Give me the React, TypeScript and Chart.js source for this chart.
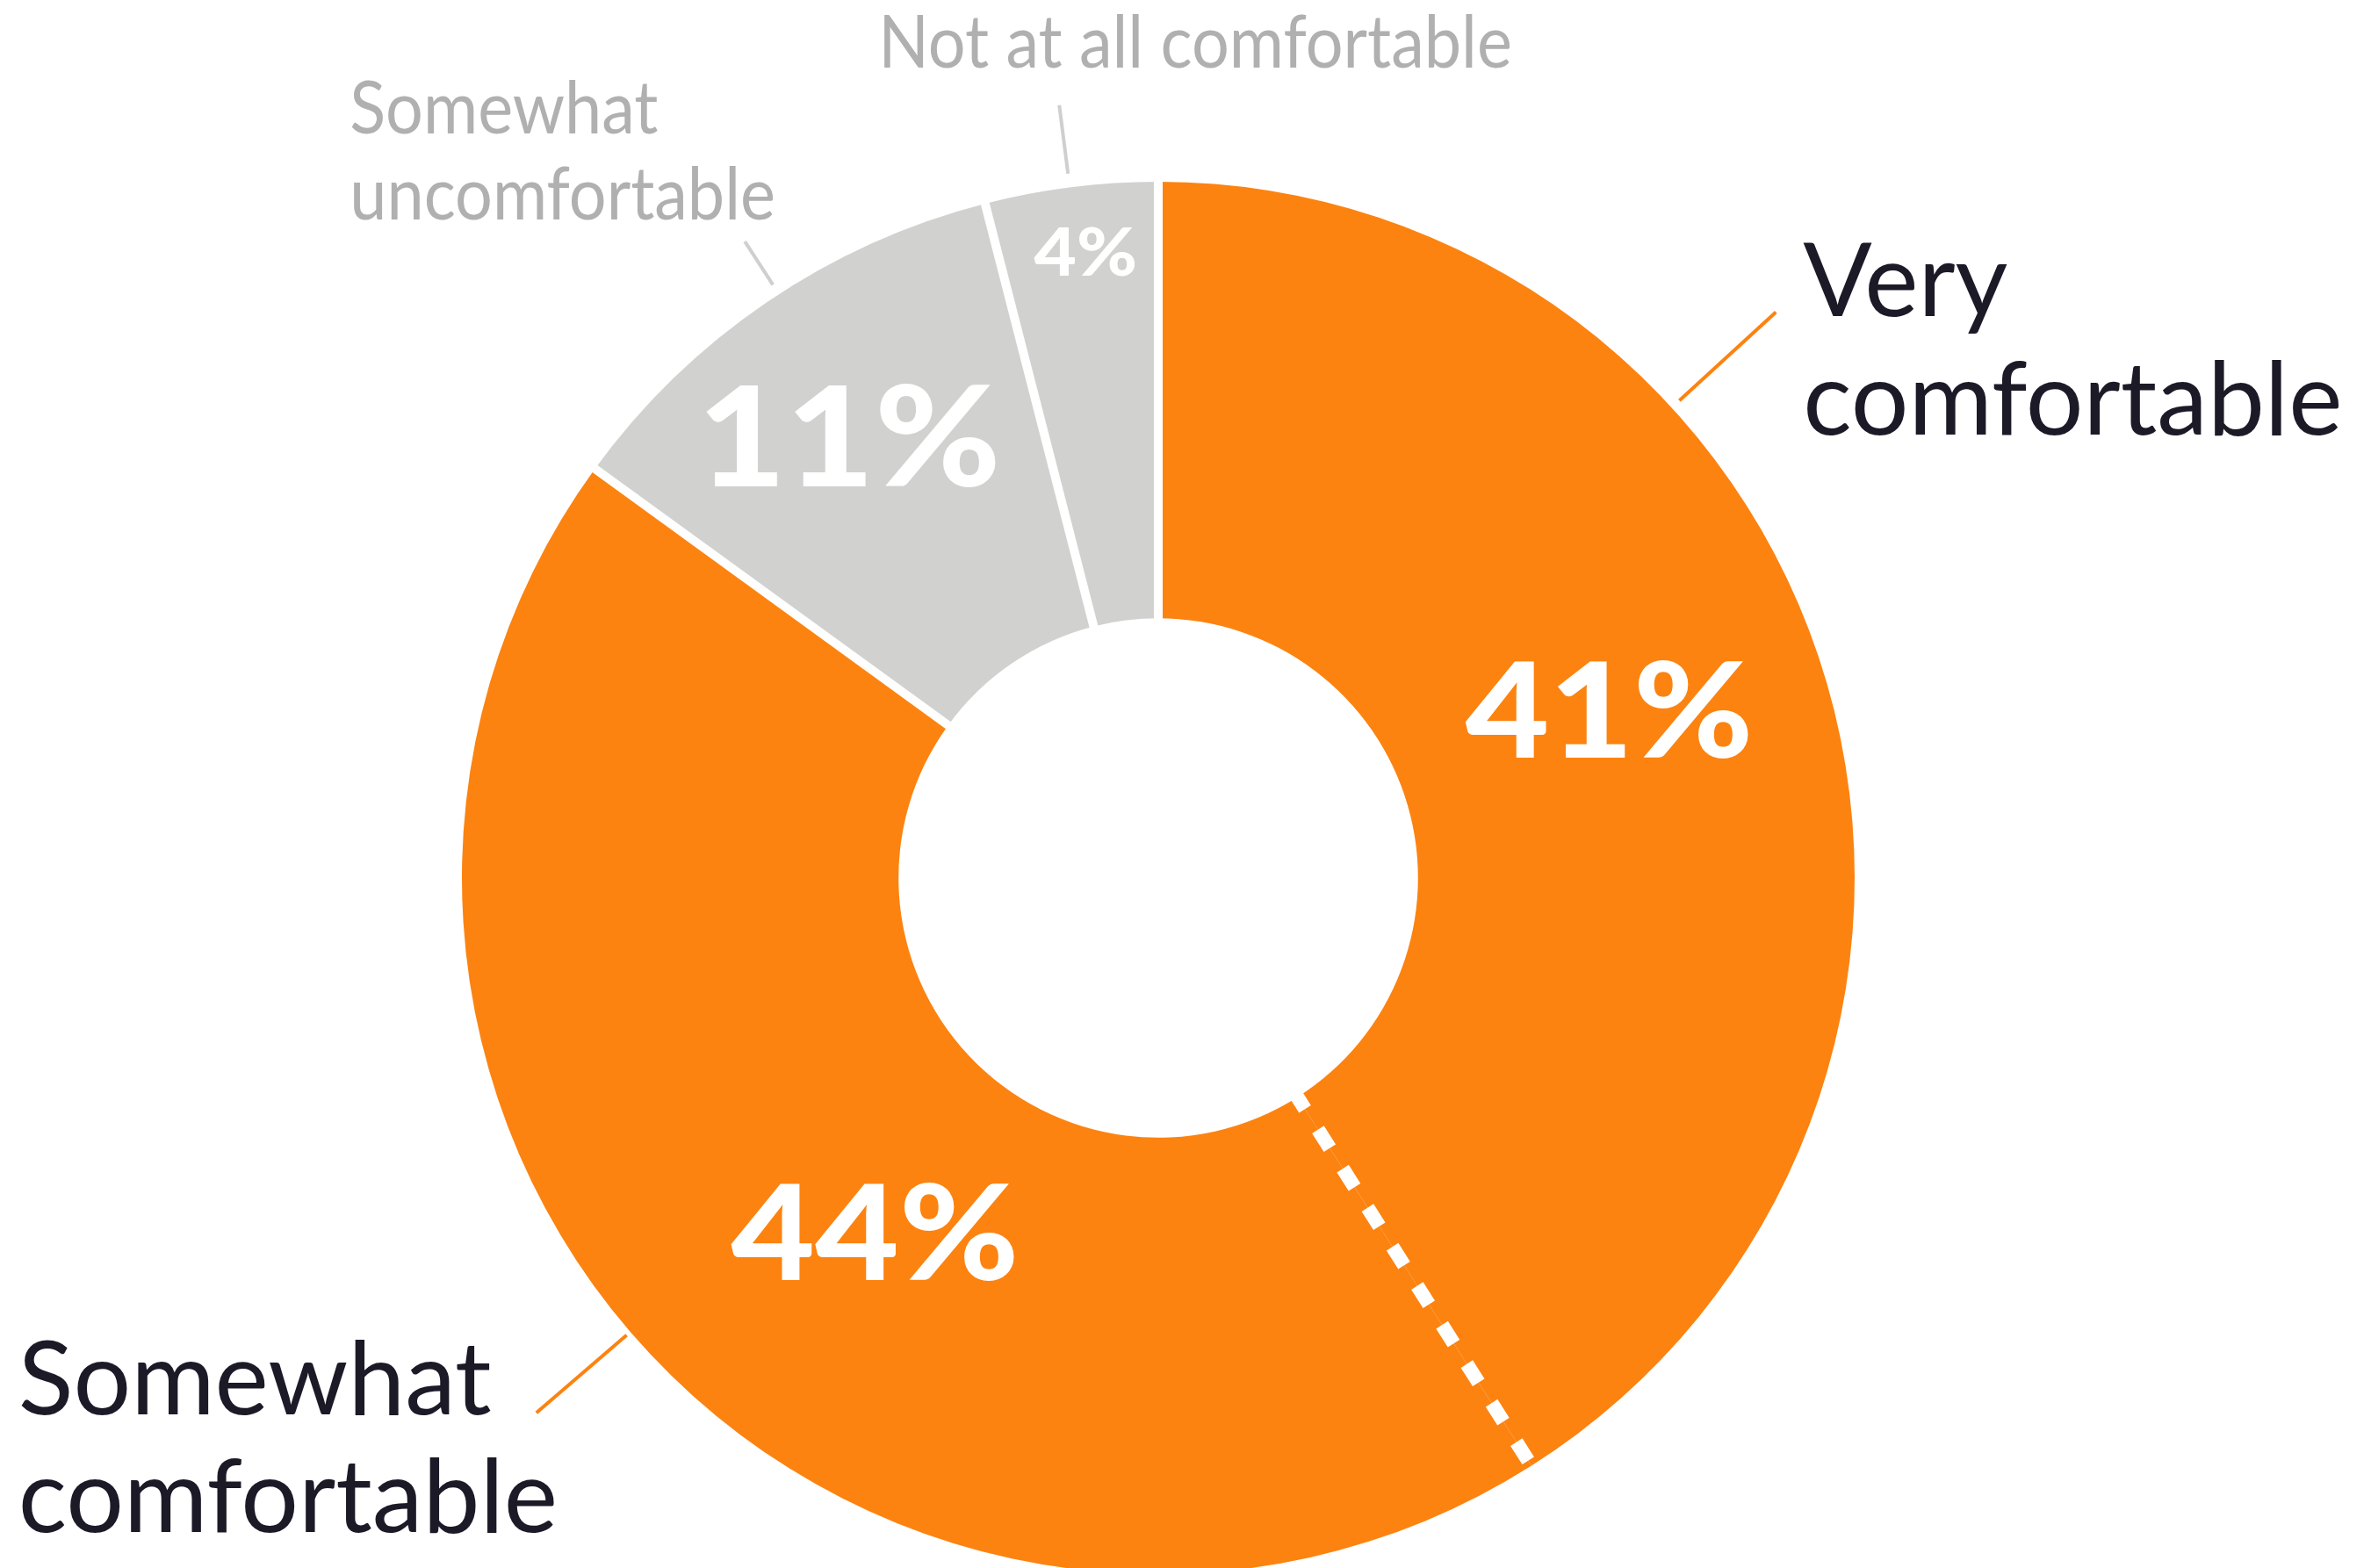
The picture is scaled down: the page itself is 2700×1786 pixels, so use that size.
import React, { useEffect, useRef } from "react";
import { Chart, registerables } from "chart.js";

Chart.register(...registerables);

// ---------- data ----------
const categories = [
  "Very comfortable",
  "Somewhat comfortable",
  "Somewhat uncomfortable",
  "Not at all comfortable",
];
const shares = [41, 44, 11, 4];
const valueLabels = ["41%", "44%", "11%", "4%"];
const categoryLabelLines = [
  ["Very", "comfortable"],
  ["Somewhat", "comfortable"],
  ["Somewhat", "uncomfortable"],
  ["Not at all comfortable"],
];

// ---------- styles ----------
const ORANGE = "#FC8310";
const GREY = "#D1D1CF";
const sliceColors = [ORANGE, ORANGE, GREY, GREY];
// separator drawn at the start of each slice
const separatorStyles = ["solid", "dotted", "solid", "solid"];

// value label placement: [angle clockwise from top (deg), radius as fraction of outer radius, font size px]
const valueLabelPlacement = [
  [69.6, 0.691, 150],
  [218.6, 0.652, 150],
  [325.0, 0.774, 158],
  [353.4, 0.906, 76],
];

// leader lines: [angle deg, r1, r2 (fractions of outer radius)]
const leaderPlacement = [
  [47.5, 1.015, 1.203],
  [229.3, 1.007, 1.178],
  [327.0, 1.016, 1.09],
  [352.7, 1.02, 1.119],
];
const leaderColors = [ORANGE, ORANGE, "#CFCFCF", "#CFCFCF"];

// category text anchor: [dx, dy] in outer-radius units from centre (left x, first baseline)
const textAnchor = [
  [0.926, -0.807],
  [-1.637, 0.77],
  [-1.161, -1.069],
  [-0.402, -1.164],
];
const textStyle = [
  { font: "400 116px Lato", color: "#1C1A27", lineHeight: 135, scaleX: 1 },
  { font: "400 116px Lato", color: "#1C1A27", lineHeight: 134, scaleX: 1 },
  { font: "400 84px Lato", color: "#B0B0B0", lineHeight: 98, scaleX: 0.9 },
  { font: "400 84px Lato", color: "#B0B0B0", lineHeight: 98, scaleX: 0.9 },
];

const deg = (d: number) => (d * Math.PI) / 180;

const overlayPlugin = {
  id: "overlay",
  afterDatasetsDraw(chart: any) {
    const ctx: CanvasRenderingContext2D = chart.ctx;
    const arcs = chart.getDatasetMeta(0).data;
    if (!arcs.length) return;
    const g = arcs[0].getProps(["x", "y", "innerRadius", "outerRadius"], true);
    const cx = g.x, cy = g.y, R = g.outerRadius, r0 = g.innerRadius;
    const pt = (angDeg: number, r: number) => [
      cx + r * Math.sin(deg(angDeg)),
      cy - r * Math.cos(deg(angDeg)),
    ];

    // separators between slices
    arcs.forEach((arc: any, i: number) => {
      const { startAngle } = arc.getProps(["startAngle"], true);
      const dotted = separatorStyles[i] === "dotted";
      const c = Math.cos(startAngle), s = Math.sin(startAngle);
      ctx.save();
      ctx.strokeStyle = "#ffffff";
      ctx.lineCap = "butt";
      let a: number, b: number;
      if (dotted) {
        ctx.lineWidth = 16;
        ctx.setLineDash([25, 27.7]);
        a = r0 - 9;
        b = R + 2;
      } else {
        ctx.lineWidth = 10;
        a = r0 - 2;
        b = R + 2;
      }
      ctx.beginPath();
      ctx.moveTo(cx + a * c, cy + a * s);
      ctx.lineTo(cx + b * c, cy + b * s);
      ctx.stroke();
      ctx.restore();
    });

    // value labels
    valueLabels.forEach((txt, i) => {
      const [ang, rf, size] = valueLabelPlacement[i];
      const [x, y] = pt(ang, rf * R);
      ctx.save();
      ctx.fillStyle = "#ffffff";
      ctx.font = `900 ${size}px Lato`;
      ctx.textAlign = "center";
      ctx.textBaseline = "alphabetic";
      ctx.translate(x, y + 0.36 * size);
      ctx.scale(1.1, 1);
      ctx.fillText(txt, 0, 0);
      ctx.restore();
    });

    // leader lines
    leaderPlacement.forEach(([ang, r1, r2], i) => {
      const [x1, y1] = pt(ang, r1 * R);
      const [x2, y2] = pt(ang, r2 * R);
      ctx.save();
      ctx.strokeStyle = leaderColors[i];
      ctx.lineWidth = 4;
      ctx.beginPath();
      ctx.moveTo(x1, y1);
      ctx.lineTo(x2, y2);
      ctx.stroke();
      ctx.restore();
    });

    // category labels
    categoryLabelLines.forEach((lines, i) => {
      const [dx, dy] = textAnchor[i];
      const st = textStyle[i];
      const x0 = cx + dx * R;
      const y0 = cy + dy * R;
      ctx.save();
      ctx.fillStyle = st.color;
      ctx.font = st.font;
      ctx.textAlign = "left";
      ctx.textBaseline = "alphabetic";
      lines.forEach((ln, k) => {
        ctx.save();
        ctx.translate(x0, y0 + k * st.lineHeight);
        ctx.scale(st.scaleX, 1);
        ctx.fillText(ln, 0, 0);
        ctx.restore();
      });
      ctx.restore();
    });
  },
};

export default function App() {
  const ref = useRef<HTMLCanvasElement>(null);
  useEffect(() => {
    if (!ref.current) return;
    const chart = new Chart(ref.current, {
      type: "doughnut",
      data: {
        labels: categories,
        datasets: [
          {
            data: shares,
            backgroundColor: sliceColors,
            borderWidth: 0,
            hoverOffset: 0,
          },
        ],
      },
      options: {
        responsive: false,
        animation: false,
        devicePixelRatio: 1,
        cutout: "37.3%",
        layout: { padding: { top: 207, bottom: 7, left: 526, right: 588 } },
        plugins: { legend: { display: false }, tooltip: { enabled: false } },
        events: [],
      },
      plugins: [overlayPlugin],
    } as any);
    if ((document as any).fonts && (document as any).fonts.load) {
      Promise.all([
        (document as any).fonts.load("900 150px Lato"),
        (document as any).fonts.load("400 116px Lato"),
        (document as any).fonts.load("400 84px Lato"),
      ]).then(() => chart.draw()).catch(() => {});
    }
    return () => chart.destroy();
  }, []);
  return (
    <div
      style={{
        position: "fixed",
        left: 0,
        top: 0,
        width: 2700,
        height: 1786,
        overflow: "hidden",
        background: "#ffffff",
      }}
    >
      <canvas ref={ref} width={2700} height={1800} style={{ display: "block" }} />
    </div>
  );
}
